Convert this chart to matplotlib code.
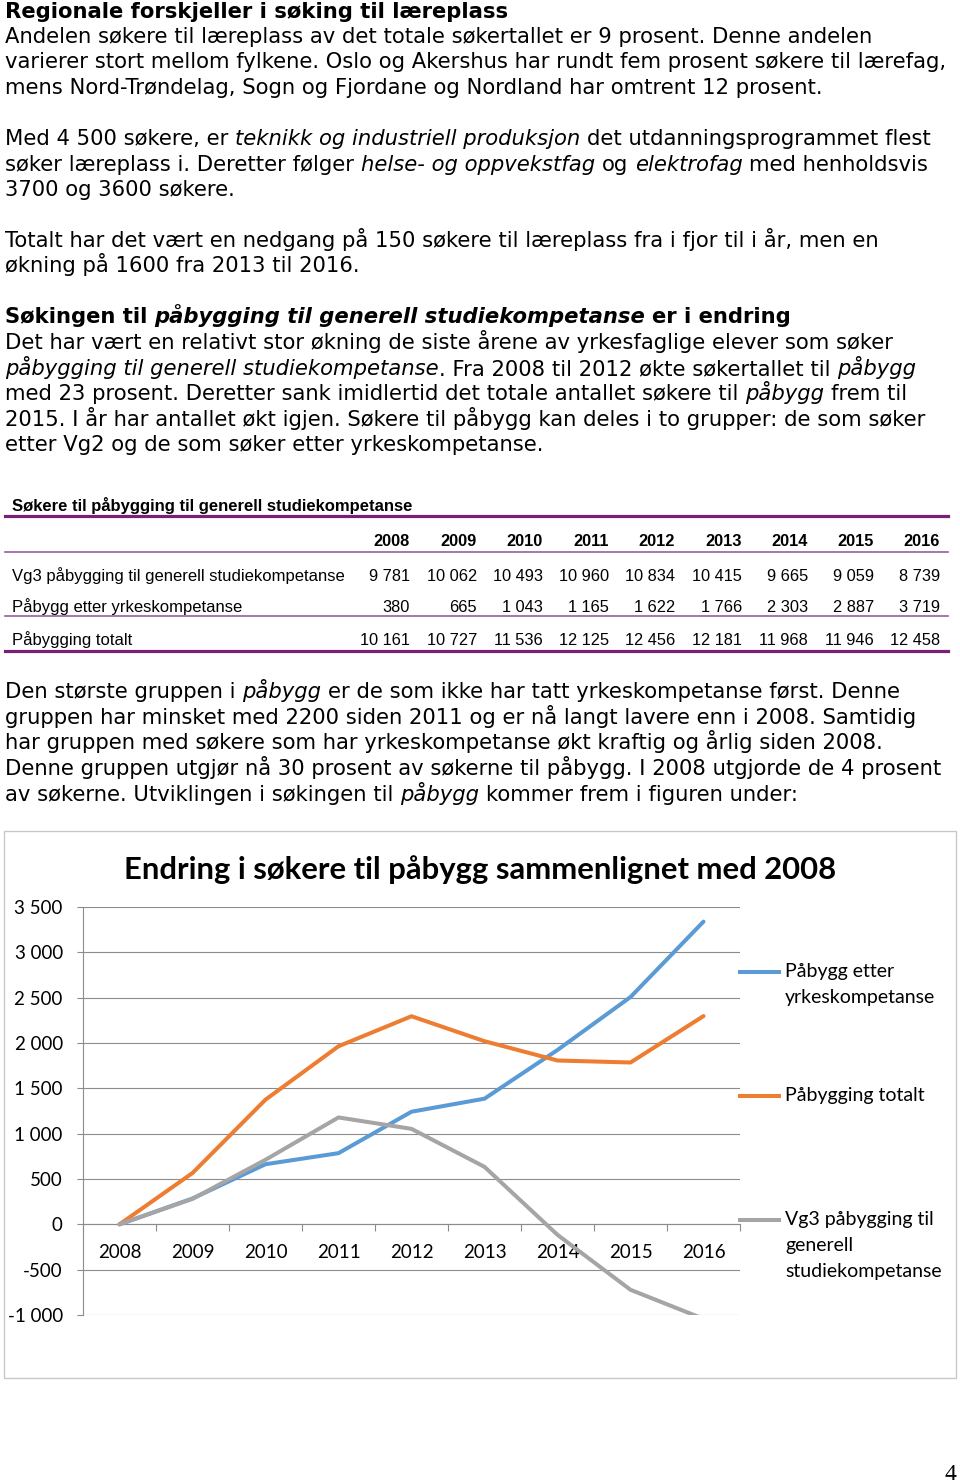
import matplotlib
matplotlib.use("Agg")
import matplotlib.pyplot as plt
from matplotlib.lines import Line2D
from matplotlib.patches import Rectangle

W, H = 960, 1484

# table data
years = [2008, 2009, 2010, 2011, 2012, 2013, 2014, 2015, 2016]
row_names = ["Vg3 påbygging til generell studiekompetanse",
             "Påbygg etter yrkeskompetanse",
             "Påbygging totalt"]
vg3 = [9781, 10062, 10493, 10960, 10834, 10415, 9665, 9059, 8739]
yrke = [380, 665, 1043, 1165, 1622, 1766, 2303, 2887, 3719]
totalt = [10161, 10727, 11536, 12125, 12456, 12181, 11968, 11946, 12458]

# chart data: change compared with 2008
chg_yrke = [0, 285, 663, 785, 1242, 1386, 1923, 2507, 3339]
chg_totalt = [0, 566, 1375, 1964, 2295, 2020, 1807, 1785, 2297]
chg_vg3 = [0, 281, 712, 1179, 1053, 634, -116, -722, -1042]
series_names = ["Påbygg etter\nyrkeskompetanse", "Påbygging totalt",
                "Vg3 påbygging til\ngenerell\nstudiekompetanse"]

fig = plt.figure(figsize=(W / 100, H / 100), dpi=100)
R = fig.canvas.get_renderer()


def fx(x):
    return x / W


def fy(y):
    return 1 - y / H


def text_w(s, **kw):
    t = fig.text(0, 0, s, **kw)
    w = t.get_window_extent(renderer=R).width
    t.remove()
    return w


BODY = "DejaVu Sans"
base = text_w("varierer stort mellom fylkene. Oslo og Akershus har rundt fem prosent søkere til lærefag,",
              fontsize=10, family=BODY)
BS = 10 * 944 / base


def runs(x, y, parts, size=None, family=BODY):
    size = size or BS
    sp = text_w("a a", fontsize=size, family=family) - text_w("aa", fontsize=size, family=family)
    for txt, st in parts:
        style = "italic" if "i" in st else "normal"
        weight = "bold" if "b" in st else "normal"
        lead = len(txt) - len(txt.lstrip(" "))
        trail = len(txt) - len(txt.rstrip(" "))
        x += lead * sp
        core = txt.strip(" ")
        t = fig.text(fx(x), fy(y), core, fontsize=size, family=family,
                     style=style, weight=weight, va="baseline", ha="left")
        x += t.get_window_extent(renderer=R).width + trail * sp


top_lines = [
    (17.5, [("Regionale forskjeller i søking til læreplass", "b")]),
    (43, [("Andelen søkere til læreplass av det totale søkertallet er 9 prosent. Denne andelen", "")]),
    (68.5, [("varierer stort mellom fylkene. Oslo og Akershus har rundt fem prosent søkere til lærefag,", "")]),
    (94, [("mens Nord-Trøndelag, Sogn og Fjordane og Nordland har omtrent 12 prosent.", "")]),
    (145, [("Med 4 500 søkere, er ", ""), ("teknikk og industriell produksjon", "i"),
           (" det utdanningsprogrammet flest", "")]),
    (171, [("søker læreplass i. Deretter følger ", ""), ("helse- og oppvekstfag", "i"), (" og ", ""),
           ("elektrofag", "i"), (" med henholdsvis", "")]),
    (196, [("3700 og 3600 søkere.", "")]),
    (247, [("Totalt har det vært en nedgang på 150 søkere til læreplass fra i fjor til i år, men en", "")]),
    (272, [("økning på 1600 fra 2013 til 2016.", "")]),
    (323, [("Søkingen til ", "b"), ("påbygging til generell studiekompetanse", "bi"), (" er i endring", "b")]),
    (349, [("Det har vært en relativt stor økning de siste årene av yrkesfaglige elever som søker", "")]),
    (375, [("påbygging til generell studiekompetanse", "i"),
           (". Fra 2008 til 2012 økte søkertallet til ", ""), ("påbygg", "i")]),
    (400, [("med 23 prosent. Deretter sank imidlertid det totale antallet søkere til ", ""),
           ("påbygg", "i"), (" frem til", "")]),
    (426, [("2015. I år har antallet økt igjen. Søkere til påbygg kan deles i to grupper: de som søker", "")]),
    (451, [("etter Vg2 og de som søker etter yrkeskompetanse.", "")]),
    (698, [("Den største gruppen i ", ""), ("påbygg", "i"),
           (" er de som ikke har tatt yrkeskompetanse først. Denne", "")]),
    (724, [("gruppen har minsket med 2200 siden 2011 og er nå langt lavere enn i 2008. Samtidig", "")]),
    (749, [("har gruppen med søkere som har yrkeskompetanse økt kraftig og årlig siden 2008.", "")]),
    (775, [("Denne gruppen utgjør nå 30 prosent av søkerne til påbygg. I 2008 utgjorde de 4 prosent", "")]),
    (801, [("av søkerne. Utviklingen i søkingen til ", ""), ("påbygg", "i"),
           (" kommer frem i figuren under:", "")]),
]
for y, parts in top_lines:
    runs(5, y, parts)

# ---- table ----
TF = "Liberation Sans"
TS = 11.8
purple = "#7A1E78"
light = "#95609A"
fig.text(fx(12), fy(511), "Søkere til påbygging til generell studiekompetanse",
         fontsize=12, family=TF, weight="bold", va="baseline")
col_right = [410, 477, 543, 609, 675, 742, 808, 874, 940]


def fmt(v):
    return f"{v:,}".replace(",", " ")


for xr, yr in zip(col_right, years):
    fig.text(fx(xr), fy(546), str(yr), fontsize=TS, family=TF, weight="bold",
             ha="right", va="baseline")
for yb, name, vals in zip([581, 612, 645], row_names, [vg3, yrke, totalt]):
    fig.text(fx(12), fy(yb), name, fontsize=12, family=TF, va="baseline")
    for xr, v in zip(col_right, vals):
        fig.text(fx(xr), fy(yb), fmt(v), fontsize=TS, family=TF, ha="right", va="baseline")

for yl, c, lw in [(516, purple, 2.3), (552, light, 1.2), (616, light, 1.2), (651, purple, 2.3)]:
    fig.add_artist(Line2D([fx(5), fx(948)], [fy(yl), fy(yl)], color=c, lw=lw,
                          transform=fig.transFigure))

# ---- chart ----
CF = "Lato"
fig.add_artist(Rectangle((fx(4), fy(1378)), fx(952), (1378 - 831) / H, fill=False,
                         edgecolor="#C8C8C8", lw=1.0, transform=fig.transFigure))
fig.text(fx(480), fy(879), "Endring i søkere til påbygg sammenlignet med 2008",
         fontsize=22.3, family=CF, weight="bold", ha="center", va="baseline")

ax = fig.add_axes([fx(83), fy(1315), (740 - 83) / W, (1315 - 907) / H])
grid = "#8C8C8C"
ax.spines["bottom"].set_position(("data", 0))

xs = list(range(len(years)))
colors = ["#5B9BD5", "#ED7D31", "#A5A5A5"]
for vals, c in zip([chg_yrke, chg_totalt, chg_vg3], colors):
    ax.plot(xs, vals, color=c, lw=2.9, solid_joinstyle="round", solid_capstyle="round", zorder=3)

ax.set_xlim(-0.5, len(years) - 0.5)
ax.set_ylim(-1000, 3500)
ax.set_yticks(range(-1000, 3501, 500))
ax.set_yticklabels([fmt(v) for v in range(-1000, 3501, 500)])
ax.yaxis.grid(True, color=grid, lw=0.8)
ax.tick_params(axis="y", length=4, color=grid, width=0.8, pad=10.5)
ax.set_xticks(xs)
ax.set_xticklabels([str(y) for y in years])
ax.set_xticks([i - 0.5 for i in range(len(years) + 1)], minor=True)
ax.tick_params(axis="x", which="major", length=0, pad=14)
ax.tick_params(axis="x", which="minor", length=5, color=grid, width=0.8, direction="out")
for lab in ax.get_xticklabels() + ax.get_yticklabels():
    lab.set_fontfamily(CF)
    lab.set_fontsize(13.5)
ax.spines["bottom"].set_color(grid)
ax.spines["bottom"].set_linewidth(0.8)
ax.spines["left"].set_color(grid)
ax.spines["left"].set_linewidth(0.8)
ax.spines["top"].set_visible(False)
ax.spines["right"].set_visible(False)
ax.set_axisbelow(True)
ax.patch.set_alpha(0)

# legend
leg = [(972, [972, 997]), (1096, [1096]), (1220, [1220, 1246, 1271])]
for (ly, tys), name, c in zip(leg, series_names, colors):
    fig.add_artist(Line2D([fx(740), fx(779)], [fy(ly), fy(ly)], color=c, lw=2.9,
                          transform=fig.transFigure))
    for ty, part in zip(tys, name.split("\n")):
        fig.text(fx(785), fy(ty), part, fontsize=14, family=CF, va="center")

fig.text(fx(956), fy(1480), "4", fontsize=17, family="Liberation Serif", ha="right", va="baseline")

fig.savefig("out.png", dpi=100)
